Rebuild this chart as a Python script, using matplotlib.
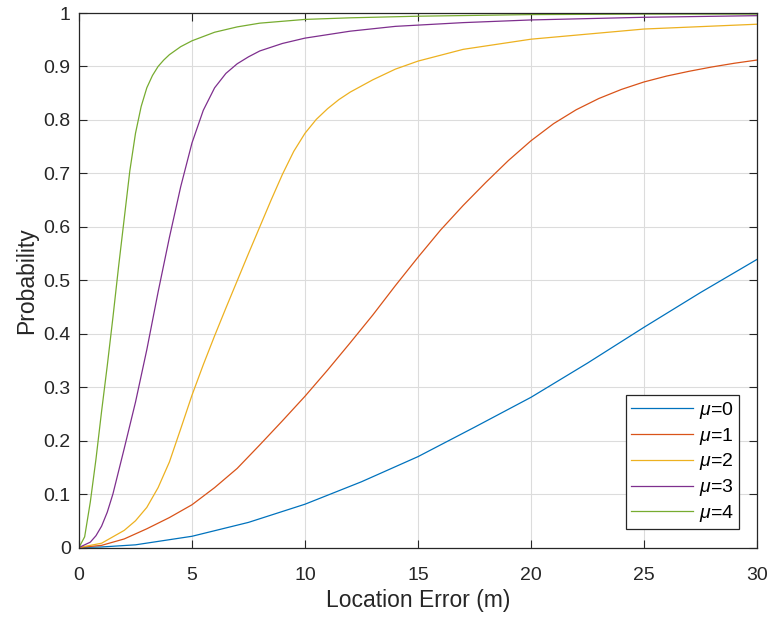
import numpy as np
import matplotlib.pyplot as plt

# values (location error in m -> probability)
x_mu0 = [0, 1, 2.5, 5, 7.5, 10, 12.5, 15, 17.5, 20, 22.5, 25, 27.5, 30]
p_mu0 = [0, 0.001, 0.005, 0.021, 0.047, 0.081, 0.123, 0.170, 0.225, 0.281,
         0.345, 0.412, 0.477, 0.539]

x_mu1 = [0, 1, 2, 3, 4, 5, 6, 7, 8, 9, 10, 11, 12, 13, 14, 15, 16, 17, 18,
         19, 20, 21, 22, 23, 24, 25, 26, 27, 28, 29, 30]
p_mu1 = [0, 0.004, 0.016, 0.035, 0.056, 0.08, 0.112, 0.148, 0.192, 0.237,
         0.283, 0.332, 0.383, 0.435, 0.49, 0.543, 0.594, 0.64, 0.683, 0.724,
         0.761, 0.793, 0.819, 0.84, 0.857, 0.871, 0.882, 0.891, 0.899, 0.906,
         0.912]

x_mu2 = [0, 1, 2, 2.5, 3, 3.5, 4, 4.5, 5, 5.5, 6, 6.5, 7, 7.5, 8, 8.5, 9,
         9.5, 10, 10.5, 11, 11.5, 12, 13, 14, 15, 17, 20, 25, 30]
p_mu2 = [0, 0.008, 0.032, 0.05, 0.075, 0.112, 0.16, 0.222, 0.285, 0.342,
         0.396, 0.448, 0.499, 0.55, 0.6, 0.65, 0.698, 0.741, 0.775, 0.801,
         0.821, 0.838, 0.852, 0.875, 0.895, 0.91, 0.932, 0.951, 0.970, 0.979]

x_mu3 = [0, 0.5, 0.75, 1, 1.25, 1.5, 2, 2.5, 3, 3.5, 4, 4.5, 5, 5.5, 6, 6.5,
         7, 7.5, 8, 9, 10, 12, 14, 17, 20, 25, 30]
p_mu3 = [0, 0.01, 0.022, 0.04, 0.066, 0.1, 0.185, 0.272, 0.37, 0.478, 0.58,
         0.675, 0.757, 0.818, 0.86, 0.887, 0.905, 0.918, 0.929, 0.943, 0.953,
         0.966, 0.975, 0.982, 0.987, 0.992, 0.995]

x_mu4 = [0, 0.25, 0.5, 0.75, 1, 1.25, 1.5, 1.75, 2, 2.25, 2.5, 2.75, 3, 3.25,
         3.5, 3.75, 4, 4.5, 5, 6, 7, 8, 10, 12, 15, 20, 25, 30]
p_mu4 = [0, 0.02, 0.085, 0.165, 0.255, 0.34, 0.43, 0.525, 0.615, 0.705,
         0.775, 0.825, 0.86, 0.883, 0.9, 0.912, 0.922, 0.937, 0.948, 0.964,
         0.974, 0.981, 0.988, 0.991, 0.994, 0.997, 0.998, 0.998]

labels = [r'$\mu$=0', r'$\mu$=1', r'$\mu$=2', r'$\mu$=3', r'$\mu$=4']
colors = ['#0072BD', '#D95319', '#EDB120', '#7E2F8E', '#77AC30']

plt.rcParams['font.family'] = ['Liberation Sans', 'DejaVu Sans']
plt.rcParams['mathtext.fontset'] = 'custom'
plt.rcParams['mathtext.it'] = 'Liberation Sans:italic'

fig = plt.figure(figsize=(7.72, 6.18), dpi=100)
ax = fig.add_axes([79 / 772, 70.5 / 618, 678 / 772, 534.5 / 618])

series = [(x_mu0, p_mu0), (x_mu1, p_mu1), (x_mu2, p_mu2),
          (x_mu3, p_mu3), (x_mu4, p_mu4)]
for (xs, ps), lab, c in zip(series, labels, colors):
    ax.plot(xs, ps, color=c, lw=0.9, label=lab)

ax.set_xlim(0, 30)
ax.set_ylim(0, 1)
ax.set_xticks(np.arange(0, 31, 5))
ax.set_yticks(np.arange(0, 1.01, 0.1))
ax.set_yticklabels(['0', '0.1', '0.2', '0.3', '0.4', '0.5', '0.6', '0.7',
                    '0.8', '0.9', '1'])
ax.grid(True, color='#dcdcdc', lw=0.8)
ax.set_axisbelow(True)
ax.tick_params(direction='in', top=True, right=True, length=6, width=0.8,
               labelsize=14, colors='#262626', pad=6)
ax.tick_params(axis='x', pad=14)
for s in ax.spines.values():
    s.set_color('#262626')
    s.set_linewidth(0.9)

ax.set_xlabel('Location Error (m)', fontsize=16.5, color='#262626',
              labelpad=4)
ax.set_ylabel('Probability', fontsize=16.5, color='#262626')

leg = ax.legend(loc='lower right', fontsize=14, handlelength=3.2,
                fancybox=False, framealpha=1, edgecolor='#262626',
                borderaxespad=0.95, borderpad=0.25, labelspacing=0.25,
                handletextpad=0.3)
leg.get_frame().set_linewidth(0.9)

fig.savefig('out.png', dpi=100)
